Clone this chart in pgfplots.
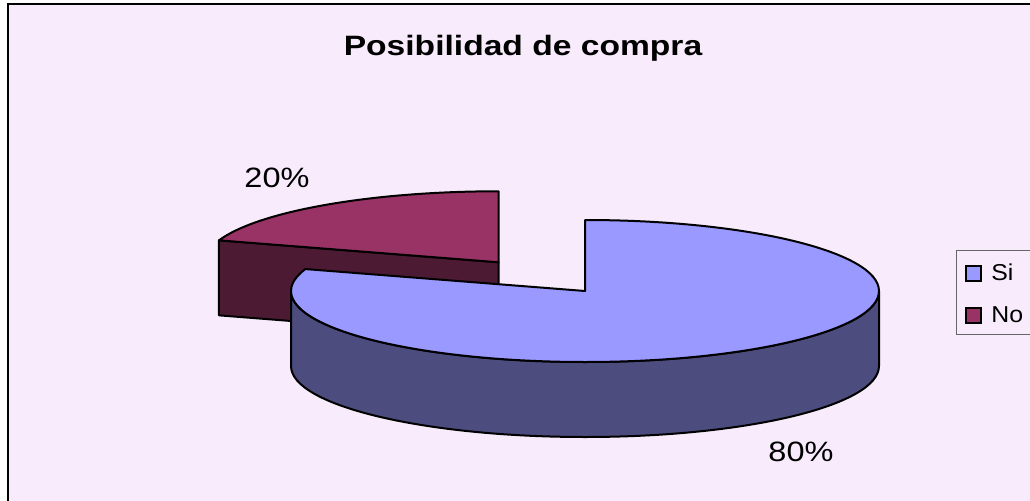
\documentclass[border=0pt]{standalone}
\usepackage{pgfplots}
\pgfplotsset{compat=1.18}
\usepackage{pgfplotstable}
\usepackage{fontspec}
\setmainfont{Liberation Sans}
\definecolor{bg}{HTML}{F7EBFC}
\definecolor{sitop}{HTML}{9999FF}
\definecolor{siside}{HTML}{4C4C7F}
\definecolor{notop}{HTML}{993366}
\definecolor{noside}{HTML}{4C1A33}
\pgfplotstableread{
label value
Si 80
No 20
}\piedata
\begin{document}
\begin{tikzpicture}
\pgfplotstablegetelem{0}{value}\of\piedata \global\let\vSi\pgfplotsretval
\pgfplotstablegetelem{1}{value}\of\piedata \global\let\vNo\pgfplotsretval
\pgfmathsetmacro\tot{\vSi+\vNo}
\pgfmathsetmacro\aSi{90-(360/\tot)*\vSi}
\pgfmathsetmacro\aNo{90+(360/\tot)*\vNo}
\pgfmathsetmacro\aMid{(90+\aNo)/2}
\def\rx{294}\def\ry{71}\def\dep{75}
\def\cx{585}\def\cy{209}
\pgfmathsetmacro\nx{\cx+0.5*\rx*cos(\aMid)}
\pgfmathsetmacro\ny{\cy+0.5*\ry*sin(\aMid)}
\pgfmathsetmacro\nyb{\ny-\dep}
\pgfmathsetmacro\nyt{\ny+\ry}
\pgfmathsetmacro\Lx{\nx+\rx*cos(\aNo)}
\pgfmathsetmacro\Ly{\ny+\ry*sin(\aNo)}
\pgfmathsetmacro\Lyb{\Ly-\dep}
\pgfmathsetmacro\sxl{\cx-\rx}
\pgfmathsetmacro\sxr{\cx+\rx}
\pgfmathsetmacro\cyb{\cy-\dep}
\pgfmathsetmacro\cyt{\cy+\ry}
\begin{axis}[x=0.5pt,y=0.5pt,xmin=0,xmax=1030,ymin=0,ymax=500,
  hide axis,clip=false,scale only axis]
\coordinate (BL) at (axis cs:0,0);
\coordinate (TR) at (axis cs:1030,500);
% background and frame
\fill[bg] (axis cs:8,-10) rectangle (axis cs:1040,496);
\draw[line width=0.8pt] (axis cs:8,-10) -- (axis cs:8,496) -- (axis cs:1040,496);
% title
\node[anchor=base,font=\bfseries\fontsize{14pt}{16pt}\selectfont] at (axis cs:523,445) {\scalebox{1.2}[1]{Posibilidad de compra}};
% No slice (exploded)
\filldraw[fill=noside,line width=1pt,line join=round] (axis cs:\nx,\ny) -- (axis cs:\Lx,\Ly) -- (axis cs:\Lx,\Lyb) -- (axis cs:\nx,\nyb) -- cycle;
\filldraw[fill=notop,line width=1pt,line join=round] (axis cs:\nx,\ny) -- (axis cs:\nx,\nyt) arc[start angle=90,end angle=\aNo,x radius=\rx,y radius=\ry] -- cycle;
% Si slice
\filldraw[fill=siside,line width=1pt,line join=round] (axis cs:\sxl,\cy) arc[start angle=180,end angle=360,x radius=\rx,y radius=\ry] -- (axis cs:\sxr,\cyb) arc[start angle=0,end angle=-180,x radius=\rx,y radius=\ry] -- cycle;
\filldraw[fill=sitop,line width=1pt,line join=round] (axis cs:\cx,\cy) -- (axis cs:\cx,\cyt) arc[start angle=90,end angle=\aSi,x radius=\rx,y radius=\ry] -- cycle;
% data labels
\node[anchor=base,font=\fontsize{14pt}{16pt}\selectfont] at (axis cs:801,39) {\scalebox{1.16}[1]{\vSi\%}};
\node[anchor=base,font=\fontsize{14pt}{16pt}\selectfont] at (axis cs:277,313) {\scalebox{1.16}[1]{\vNo\%}};
% legend
\draw[fill=bg,draw=black!60,line width=0.5pt] (axis cs:956,166) rectangle (axis cs:1045,250);
\filldraw[fill=sitop,line width=0.7pt] (axis cs:966,219) rectangle (axis cs:981,234);
\filldraw[fill=notop,line width=0.7pt] (axis cs:966,177) rectangle (axis cs:981,192);
\node[anchor=base west,inner sep=0pt,font=\fontsize{11.5pt}{13pt}\selectfont] at (axis cs:991,220) {\scalebox{1.08}[1]{Si}};
\node[anchor=base west,inner sep=0pt,font=\fontsize{11.5pt}{13pt}\selectfont] at (axis cs:991,178) {\scalebox{1.08}[1]{No}};
\end{axis}
\pgfresetboundingbox
\path[use as bounding box] (BL) rectangle (TR);
\end{tikzpicture}
\end{document}
